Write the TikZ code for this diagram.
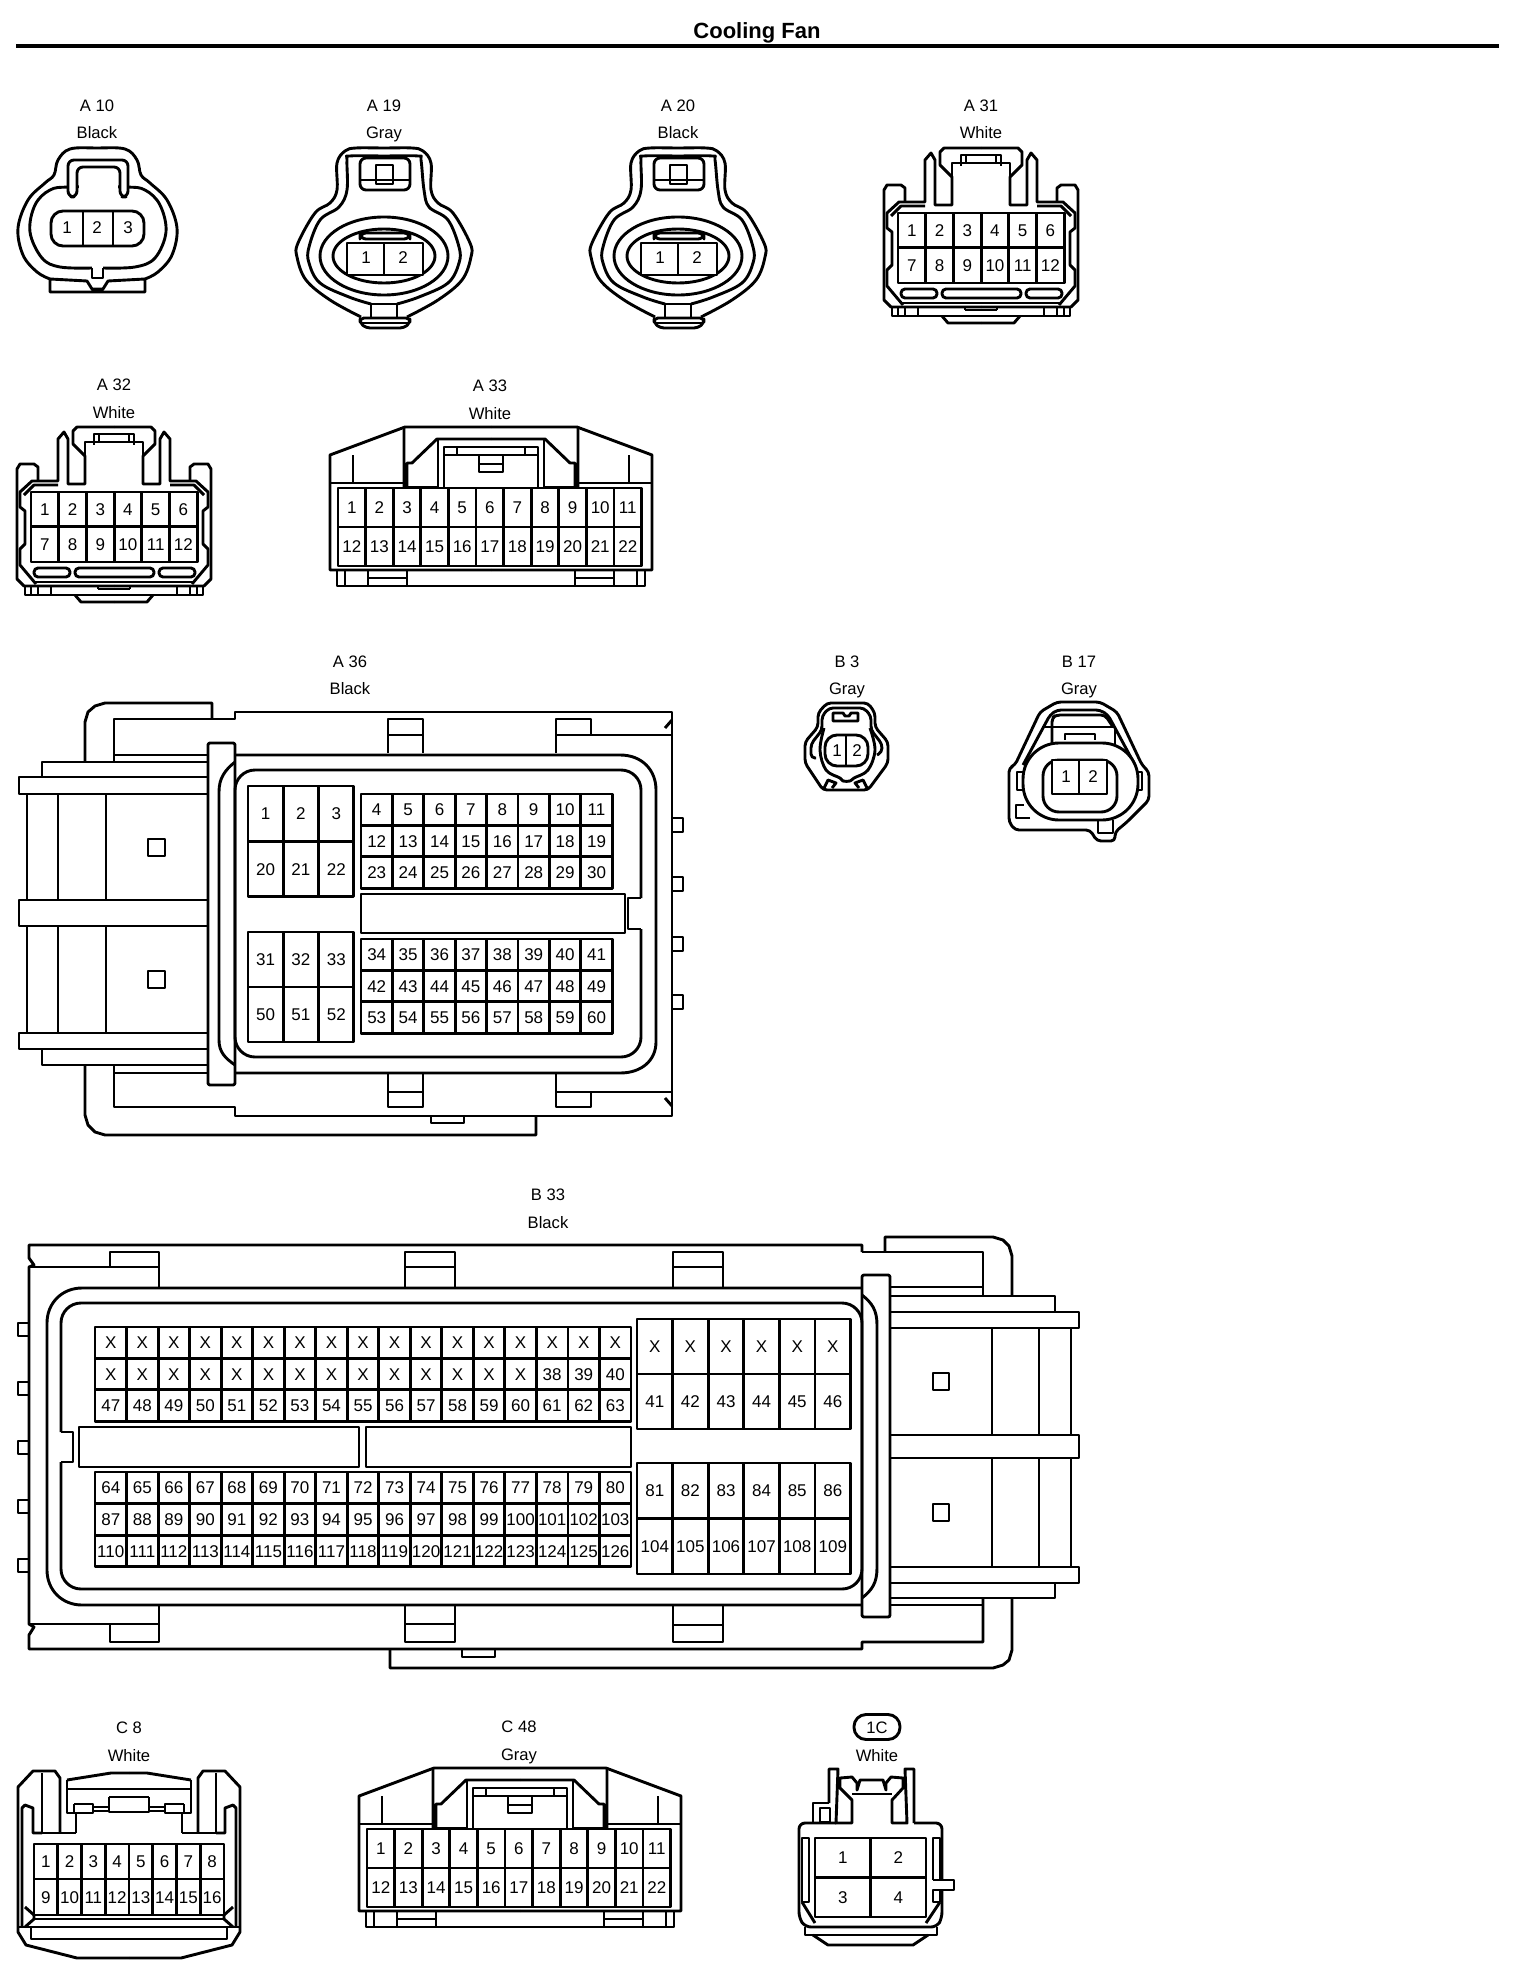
\documentclass[tikz,border=0pt]{standalone}
\usepackage{fontspec}
\setmainfont{Liberation Sans}
\tikzset{
    pincell/.style={draw,inner sep=0pt,text height=6pt,text depth=0pt,font=\fontsize{8.5}{10}\selectfont},
    pintext/.style={inner sep=0pt,text height=6pt,text depth=0pt,font=\fontsize{8.5}{10}\selectfont},
    tagtext/.style={inner sep=0pt,text height=6pt,text depth=0pt,font=\fontsize{8.3}{10}\selectfont}
}
% row of pin cells: name, left, top, cell width, cell height, labels
\newcommand{\pinrow}[6]{
    \foreach \lab [count=\i] in {#6}
        \node[pincell,minimum width=#4*0.5pt,minimum height=#5*0.5pt] (#1-\i) at ({#2+(\i-0.5)*#4},{#3+0.5*#5}) {\lab};
}
\begin{document}
\begin{tikzpicture}[x=0.5pt,y=-0.5pt,line width=1.45pt,line join=round]
    \useasboundingbox (0,0) rectangle (1520,1974);
    \node[inner sep=0pt,text height=8pt,text depth=0pt,font=\fontsize{11}{13}\selectfont\bfseries] (title) at (757,31) {Cooling Fan};
    \coordinate (ruleleft) at (16,46);
    \coordinate (ruleright) at (1499,46);
    \draw[line width=2.2pt] (ruleleft) -- (ruleright);

    % A 10
    \node[tagtext] (a10) at (97,106) {A 10};
    \node[tagtext] (a10col) at (97,133) {Black};
    \draw plot[smooth,tension=0.6] coordinates {(50,279) (37,272) (23,255) (18,228) (28,200) (45,183) (54,175) (58,160) (70,149) (97,148) (125,149) (137,160) (141,175) (150,183) (167,200) (177,228) (172,255) (158,272) (145,279)};
    \draw (50,279) -- (87,281) -- (92,289) -- (103,289) -- (108,281) -- (145,279) -- (145,292) -- (50,292) -- cycle;
    \draw plot[smooth,tension=0.6] coordinates {(92,268) (60,267) (42,258) (30,232) (35,205) (50,190) (70,187) (125,187) (145,190) (160,205) (166,232) (155,258) (135,267) (103,268)};
    \fill[white] (79,180) rectangle (118,195);
    \draw (92,268) -- (92,278) -- (103,278) -- (103,268);
    \draw[fill=white,rounded corners=3pt] (68,197) -- (68,160) -- (128,160) -- (128,197) -- (120,197) -- (120,167) -- (77,167) -- (77,197) -- cycle;
    \draw[rounded corners=6pt] (51,211) rectangle (144,246);
    \draw (83,211) -- (83,246);
    \draw (113,211) -- (113,246);
    \node[pintext] (a10-1) at (67,228) {1};
    \node[pintext] (a10-2) at (97,228) {2};
    \node[pintext] (a10-3) at (128,228) {3};

    % A 19, A 20
    \foreach \dx/\nm/\code/\col in {0/a19/A 19/Gray,294/a20/A 20/Black}{
        \begin{scope}[shift={(\dx,0)}]
            \node[tagtext] (\nm) at (384,106) {\code};
            \node[tagtext] (\nm col) at (384,133) {\col};
            \draw plot[smooth,tension=0.6] coordinates {(361,317) (330,300) (306,280) (297,257) (298,243) (315,213) (330,203) (337,190) (337,163) (345,151) (356,148) (384,148) (412,148) (423,151) (431,163) (431,190) (438,203) (453,213) (470,243) (471,257) (462,280) (438,300) (407,317)};
            \draw plot[smooth,tension=0.6] coordinates {(371,304) (349,297) (320,283) (309,263) (309,247) (320,220) (339,207) (347,190) (347,160) (350,156) (384,156) (418,156) (421,160) (424,190) (429,207) (448,220) (459,247) (459,263) (448,283) (419,297) (397,304)};
            \draw (384,256) ellipse (64 and 39);
            \draw (384,256) ellipse (51 and 27);
            \draw[rounded corners=3pt] (360,190) -- (360,158) -- (410,158) -- (410,190) -- cycle;
            \draw (360,180) -- (410,180);
            \draw (376,165) rectangle (393,184);
            \draw[rounded corners=3pt] (360,233) rectangle (410,239);
            \draw[fill=white] (347,243) rectangle (423,275);
            \draw (384,243) -- (384,275);
            \node[pintext] (\nm-1) at (366,258) {1};
            \node[pintext] (\nm-2) at (403,258) {2};
            \draw (371,304) -- (371,318);
            \draw (397,304) -- (397,318);
            \draw (371,304) -- (397,304);
            \draw[rounded corners=2pt] (360,318) -- (360,323) -- (366,328) -- (404,328) -- (410,323) -- (410,318) -- cycle;
            \draw (360,323) -- (410,323);
        \end{scope}
    }

    % A 31, A 32
    \foreach \dx/\dy/\nm/\code in {0/0/a31/A 31,-867/279/a32/A 32}{
        \begin{scope}[shift={(981+\dx,\dy)}]
            \node[tagtext] (\nm) at (0,106) {\code};
            \node[tagtext] (\nm col) at (0,133) {White};
            \foreach \s in {1,-1}{
                \begin{scope}[xscale=\s]
                    \draw (0,148) -- (37,148) -- (41,152) -- (41,165) -- (29,177) -- (29,205) -- (46,205) -- (46,160) -- (50,153) -- (56,160) -- (56,202) -- (82,202) -- (94,213) -- (94,228) -- (89,232) -- (89,265) -- (94,270) -- (94,286) -- (78,305);
                    \draw (29,177) -- (29,163) -- (0,163);
                    \draw (0,155) -- (20,155) -- (20,166);
                    \draw (15,155) -- (15,163);
                    \draw (76,202) -- (76,188) -- (80,185) -- (94,185) -- (97,190) -- (97,300) -- (90,307) -- (0,307);
                    \draw (56,206) -- (80,206) -- (90,216);
                    \draw (0,303) -- (80,303);
                    \draw (89,307) -- (89,316) -- (0,316);
                    \draw (83,307) -- (83,316);
                    \draw (76,307) -- (76,316);
                    \draw (63,307) -- (63,316);
                    \draw (39,316) -- (33,323) -- (0,323);
                    \draw (16,310) -- (16,307);
                    \draw (16,310) -- (0,310);
                \end{scope}
            }
            \draw[rounded corners=2pt] (-80,289) rectangle (-44,298);
            \draw[rounded corners=2pt] (-39,289) rectangle (40,298);
            \draw[rounded corners=2pt] (45,289) rectangle (81,298);
            \pinrow{\nm-a}{-83}{213}{27.7}{34.5}{1,2,3,4,5,6}
            \pinrow{\nm-b}{-83}{247.5}{27.7}{35.5}{7,8,9,10,11,12}
        \end{scope}
    }

    % A 33, C 48
    \foreach \dx/\dy/\nm/\code/\col in {0/0/a33/A 33/White,29/1341/c48/C 48/Gray}{
        \begin{scope}[shift={(491+\dx,\dy)}]
            \node[tagtext] (\nm) at (-1,385.5) {\code};
            \node[tagtext] (\nm col) at (-1,413.5) {\col};
            \foreach \s in {1,-1}{
                \begin{scope}[xscale=\s]
                    \draw (0,427) -- (86,427) -- (161,455) -- (161,570) -- (0,570);
                    \draw (138,455) -- (138,483);
                    \draw (161,483) -- (87,483);
                    \draw (87,427) -- (87,487) -- (84,487) -- (84,463) -- (79,463) -- (54,439) -- (0,439);
                    \draw (53,439) -- (53,487) -- (84,487);
                    \draw (47,487) -- (47,447) -- (0,447);
                    \draw (34,447) -- (34,455);
                    \draw (47,455) -- (0,455);
                    \draw (154,570) -- (154,586) -- (0,586);
                    \draw (146,570) -- (146,586);
                    \draw (123,570) -- (123,586);
                    \draw (84,570) -- (84,586);
                    \draw (84,578) -- (123,578);
                    \draw (12,455) -- (12,472) -- (0,472);
                    \draw (12,464) -- (0,464);
                \end{scope}
            }
            \pinrow{\nm-a}{-153}{488}{27.6}{39}{1,2,3,4,5,6,7,8,9,10,11}
            \pinrow{\nm-b}{-153}{527}{27.6}{39}{12,13,14,15,16,17,18,19,20,21,22}
        \end{scope}
    }

    % A 36
    \node[tagtext] (a36) at (350,661) {A 36};
    \node[tagtext] (a36col) at (350,688) {Black};
    \draw (212,718) -- (212,703) -- (105,703) -- (95,706) -- (88,712) -- (85,722) -- (85,762);
    \draw (114,762) -- (114,719) -- (235,719) -- (235,712) -- (672,712) -- (672,1116) -- (235,1116) -- (235,1107) -- (114,1107) -- (114,1065);
    \draw (114,755) -- (208,755);
    \draw (114,1073) -- (208,1073);
    \draw (85,1065) -- (85,1115) -- (88,1125) -- (95,1132) -- (105,1135) -- (536,1135) -- (536,1116);
    \draw (431,1116) -- (431,1123) -- (464,1123) -- (464,1116);
    \draw (388,753) -- (388,719) -- (423,719) -- (423,753);
    \draw (388,735) -- (423,735);
    \draw (556,753) -- (556,719) -- (591,719) -- (591,735);
    \draw (556,735) -- (672,735);
    \draw (665,728) -- (672,720);
    \draw (388,1073) -- (388,1107) -- (423,1107) -- (423,1073);
    \draw (388,1092) -- (423,1092);
    \draw (556,1073) -- (556,1107) -- (591,1107) -- (591,1092);
    \draw (556,1092) -- (672,1092);
    \draw (665,1098) -- (672,1106);
    \foreach \ty in {818,877,937,995}{
        \draw (672,\ty) -- (683,\ty) -- (683,\ty+14) -- (672,\ty+14);
    }
    \draw (42,777) -- (42,762) -- (208,762);
    \draw (208,777) -- (19,777) -- (19,794) -- (208,794);
    \draw (27,794) -- (27,900);
    \draw (58,794) -- (58,900);
    \draw (106,794) -- (106,900);
    \draw (208,900) -- (19,900) -- (19,926) -- (208,926);
    \draw (27,926) -- (27,1033);
    \draw (58,926) -- (58,1033);
    \draw (106,926) -- (106,1033);
    \draw (208,1033) -- (19,1033) -- (19,1049) -- (208,1049);
    \draw (42,1049) -- (42,1065) -- (208,1065);
    \draw (148,839) rectangle (165,856);
    \draw (148,971) rectangle (165,988);
    \draw[rounded corners=1pt] (208,1085) -- (208,743) -- (235,743) -- (235,1085) -- cycle;
    \draw (236,755) -- (620,755) .. controls (642,755) and (656,770) .. (656,790) -- (656,1042) .. controls (656,1060) and (642,1073) .. (620,1073) -- (236,1073);
    \draw (235,762) .. controls (225,770) and (219,778) .. (219,792) -- (219,1040) .. controls (219,1052) and (225,1058) .. (235,1065);
    \draw[rounded corners=10pt] (641,898) -- (641,770) -- (235,770) -- (235,1057) -- (641,1057) -- (641,929);
    \draw (641,898) -- (628,898) -- (628,929) -- (641,929);
    \draw[fill=white] (361,894) rectangle (625,933);
    \pinrow{a36-a}{248}{786}{35.3}{55.5}{1,2,3}
    \pinrow{a36-b}{248}{841.5}{35.3}{55}{20,21,22}
    \pinrow{a36-c}{248}{932}{35.3}{55}{31,32,33}
    \pinrow{a36-d}{248}{987}{35.3}{55}{50,51,52}
    \pinrow{a36-e}{361}{794}{31.4}{31.4}{4,5,6,7,8,9,10,11}
    \pinrow{a36-f}{361}{825.4}{31.4}{31.4}{12,13,14,15,16,17,18,19}
    \pinrow{a36-g}{361}{856.8}{31.4}{31.4}{23,24,25,26,27,28,29,30}
    \pinrow{a36-h}{361}{939}{31.4}{31.4}{34,35,36,37,38,39,40,41}
    \pinrow{a36-i}{361}{970.4}{31.4}{31.4}{42,43,44,45,46,47,48,49}
    \pinrow{a36-j}{361}{1001.8}{31.4}{31.4}{53,54,55,56,57,58,59,60}

    % B 3
    \node[tagtext] (b3) at (847,661) {B 3};
    \node[tagtext] (b3col) at (847,688) {Gray};
    \draw[rounded corners=2pt] (847,703) -- (868,703) -- (875,713) -- (875,727) -- (888,742) -- (888,763) -- (868,790) -- (823,790) -- (805,763) -- (805,742) -- (818,727) -- (818,713) -- (827,703) -- cycle;
    \draw[rounded corners=2pt] (847,708) -- (864,708) -- (871,716) -- (871,730) -- (882,744) -- (882,752) -- (877,755);
    \draw[rounded corners=2pt] (847,708) -- (829,708) -- (822,716) -- (822,730) -- (811,744) -- (811,758) -- (816,758);
    \draw plot[smooth,tension=0.6] coordinates {(824,728) (820,750) (826,770) (840,778) (843,781) (850,781) (854,778) (868,770) (875,750) (870,728)};
    \draw (823,790) -- (828,780) -- (836,783) -- (832,788);
    \draw (868,790) -- (863,780) -- (855,783) -- (859,788);
    \draw[fill=white,rounded corners=6pt] (825,735) rectangle (868,766);
    \draw (846,735) -- (846,766);
    \node[pintext] (b3-1) at (837,750) {1};
    \node[pintext] (b3-2) at (857,750) {2};
    \draw (833,713) -- (843,713) -- (845,716) -- (849,716) -- (851,713) -- (858,713) -- (858,721) -- (833,721) -- cycle;

    % B 17
    \node[tagtext] (b17) at (1079,661) {B 17};
    \node[tagtext] (b17col) at (1079,688) {Gray};
    \draw[rounded corners=2pt] (1080,702) -- (1100,702) -- (1117,712) -- (1142,765) -- (1149,772) -- (1149,800) -- (1127,822) -- (1115,832) -- (1115,841) -- (1097,841) -- (1090,830) -- (1015,830) -- (1009,822) -- (1009,768) -- (1015,765) -- (1040,712) -- (1057,702) -- cycle;
    \draw[rounded corners=2pt] (1023,765) -- (1050,715) -- (1057,710) -- (1100,710) -- (1108,715) -- (1135,765);
    \draw[rounded corners=2pt] (1052,745) -- (1052,718) -- (1056,715) -- (1105,715) -- (1113,727);
    \draw (1042,727) -- (1115,727) -- (1115,745);
    \draw (1065,740) -- (1065,734) -- (1095,734) -- (1095,740);
    \draw[fill=white,rounded corners=18pt] (1023,743) rectangle (1138,820);
    \draw (1098,820) -- (1098,833) -- (1113,833) -- (1113,820);
    \draw (1023,772) -- (1017,772) -- (1017,790) -- (1023,790);
    \draw (1138,772) -- (1142,772) -- (1142,790) -- (1138,790);
    \draw (1030,818) -- (1016,818) -- (1016,805) -- (1024,805);
    \draw[rounded corners=8pt] (1043,760) rectangle (1117,812);
    \draw[fill=white] (1052,760) rectangle (1107,794);
    \draw (1079,760) -- (1079,794);
    \node[pintext] (b17-1) at (1066,776) {1};
    \node[pintext] (b17-2) at (1093,776) {2};

    % B 33
    \node[tagtext] (b33) at (548,1194) {B 33};
    \node[tagtext] (b33col) at (548,1222) {Black};
    \draw (862,1252) -- (862,1245) -- (29,1245) -- (29,1258) -- (34,1265) -- (29,1267) -- (29,1624) -- (34,1627) -- (29,1635) -- (29,1649) -- (862,1649) -- (862,1642) -- (983,1642) -- (983,1598);
    \draw (862,1252) -- (983,1252) -- (983,1295);
    \draw (890,1287) -- (983,1287);
    \draw (890,1605) -- (983,1605);
    \draw (885,1252) -- (885,1237) -- (993,1237) -- (1003,1240) -- (1009,1246) -- (1012,1256) -- (1012,1296);
    \draw (1012,1598) -- (1012,1650) -- (1009,1660) -- (1003,1665) -- (993,1668) -- (390,1668) -- (390,1649);
    \draw (462,1649) -- (462,1657) -- (495,1657) -- (495,1649);
    \draw (29,1267) -- (159,1267) -- (159,1288);
    \draw (110,1267) -- (110,1252) -- (159,1252) -- (159,1267);
    \draw (405,1288) -- (405,1252) -- (455,1252) -- (455,1288);
    \draw (405,1267) -- (455,1267);
    \draw (673,1287) -- (673,1252) -- (723,1252) -- (723,1287);
    \draw (673,1267) -- (723,1267);
    \draw (29,1624) -- (159,1624) -- (159,1605);
    \draw (110,1624) -- (110,1642) -- (159,1642) -- (159,1624);
    \draw (405,1605) -- (405,1642) -- (455,1642) -- (455,1605);
    \draw (405,1624) -- (455,1624);
    \draw (673,1605) -- (673,1642) -- (723,1642) -- (723,1605);
    \draw (673,1625) -- (723,1625);
    \foreach \ty in {1323,1382,1441,1500,1559}{
        \draw (29,\ty) -- (18,\ty) -- (18,\ty+13) -- (29,\ty+13);
    }
    \draw (890,1312) -- (890,1296) -- (1055,1296) -- (1055,1312);
    \draw (890,1312) -- (1079,1312) -- (1079,1328) -- (890,1328);
    \draw (1071,1328) -- (1071,1435);
    \draw (992,1328) -- (992,1435);
    \draw (1039,1328) -- (1039,1435);
    \draw (890,1435) -- (1079,1435) -- (1079,1458) -- (890,1458);
    \draw (1071,1458) -- (1071,1567);
    \draw (992,1458) -- (992,1567);
    \draw (1039,1458) -- (1039,1567);
    \draw (890,1567) -- (1079,1567) -- (1079,1583) -- (890,1583);
    \draw (1055,1583) -- (1055,1598) -- (890,1598);
    \draw (933,1373) rectangle (949,1390);
    \draw (933,1504) rectangle (949,1521);
    \draw[rounded corners=1pt] (862,1275) rectangle (890,1617);
    \draw (862,1288) -- (82,1288) .. controls (62,1288) and (47,1303) .. (47,1323) -- (47,1570) .. controls (47,1590) and (62,1605) .. (82,1605) -- (862,1605);
    \draw (862,1295) .. controls (872,1303) and (877,1310) .. (877,1325) -- (877,1568) .. controls (877,1583) and (872,1590) .. (862,1598);
    \draw[rounded corners=10pt] (61,1432) -- (61,1303) -- (862,1303) -- (862,1589) -- (61,1589) -- (61,1462);
    \draw (61,1432) -- (73,1432) -- (73,1462) -- (61,1462);
    \draw[fill=white] (79,1427) rectangle (359,1467);
    \draw[fill=white] (366,1427) rectangle (631,1467);
    \pinrow{b33-a}{95}{1327}{31.53}{31.4}{X,X,X,X,X,X,X,X,X,X,X,X,X,X,X,X,X}
    \pinrow{b33-b}{95}{1358.4}{31.53}{31.4}{X,X,X,X,X,X,X,X,X,X,X,X,X,X,38,39,40}
    \pinrow{b33-c}{95}{1389.8}{31.53}{31.4}{47,48,49,50,51,52,53,54,55,56,57,58,59,60,61,62,63}
    \pinrow{b33-d}{95}{1472}{31.53}{31.6}{64,65,66,67,68,69,70,71,72,73,74,75,76,77,78,79,80}
    \pinrow{b33-e}{95}{1503.6}{31.53}{31.6}{87,88,89,90,91,92,93,94,95,96,97,98,99,100,101,102,103}
    \pinrow{b33-f}{95}{1535.2}{31.53}{31.6}{110,111,112,113,114,115,116,117,118,119,120,121,122,123,124,125,126}
    \pinrow{b33-g}{637}{1319}{35.6}{55}{X,X,X,X,X,X}
    \pinrow{b33-h}{637}{1374}{35.6}{55}{41,42,43,44,45,46}
    \pinrow{b33-i}{637}{1463}{35.6}{55.5}{81,82,83,84,85,86}
    \pinrow{b33-j}{637}{1518.5}{35.6}{55.5}{104,105,106,107,108,109}

    % C 8
    \node[tagtext] (c8) at (129,1727) {C 8};
    \node[tagtext] (c8col) at (129,1755) {White};
    \begin{scope}[shift={(129,0)}]
        \foreach \s in {1,-1}{
            \begin{scope}[xscale=\s]
                \draw (69,1833) -- (69,1778) -- (74,1771) -- (96,1771) -- (111,1787) -- (111,1932) -- (103,1945) -- (52,1958) -- (0,1958);
                \draw (87,1773) -- (87,1833);
                \draw (53,1833) -- (87,1833);
                \draw (53,1813) -- (53,1833);
                \draw (87,1833) -- (96,1833) -- (96,1808) -- (104,1805) -- (107,1808) -- (107,1927);
                \draw (62,1780) -- (18,1773) -- (0,1773);
                \draw (62,1780) -- (62,1813) -- (36,1813) -- (36,1804) -- (55,1804);
                \draw (62,1789) -- (0,1789);
                \draw (55,1804) -- (55,1813);
                \draw (36,1807) -- (20,1807);
                \draw (36,1811) -- (20,1811);
                \draw (20,1797) -- (20,1812) -- (0,1812);
                \draw (20,1797) -- (0,1797);
                \draw (95,1915) -- (104,1907);
                \draw (95,1919) -- (0,1919);
                \draw (95,1915) -- (95,1919) -- (104,1927);
                \draw (111,1927) -- (0,1927);
                \draw (98,1927) -- (98,1939) -- (0,1939);
            \end{scope}
        }
    \end{scope}
    \pinrow{c8-a}{34}{1844}{23.75}{35}{1,2,3,4,5,6,7,8}
    \pinrow{c8-b}{34}{1879}{23.75}{36}{9,10,11,12,13,14,15,16}

    % 1C
    \node[draw,rounded corners=6pt,minimum width=23pt,minimum height=12.5pt,inner sep=0pt,text height=6pt,text depth=0pt,font=\fontsize{8.3}{10}\selectfont] (one) at (877,1727) {1C};
    \node[tagtext] (onecol) at (877,1755) {White};
    \draw (829,1803) -- (829,1769) -- (838,1769) -- (836,1823) -- (852,1823) -- (852,1800) -- (840,1788) -- (840,1778) -- (852,1777) -- (857,1783) -- (857,1790) -- (860,1780) -- (883,1780) -- (886,1790) -- (886,1783) -- (891,1777) -- (903,1778) -- (903,1788) -- (892,1800) -- (892,1823) -- (907,1823) -- (905,1769) -- (914,1769) -- (914,1823);
    \draw (852,1794) -- (892,1794);
    \draw (829,1803) -- (813,1803) -- (813,1823);
    \draw (820,1808) rectangle (830,1822);
    \draw[rounded corners=3pt] (836,1823) -- (799,1823) -- (799,1918) -- (805,1927) -- (937,1927) -- (942,1918) -- (942,1890);
    \draw[rounded corners=3pt] (942,1880) -- (942,1823) -- (914,1823);
    \draw (802,1838) rectangle (809,1902);
    \draw (933,1880) -- (933,1838) -- (940,1838) -- (940,1880);
    \draw (933,1880) -- (954,1880) -- (954,1890) -- (933,1890) -- (933,1902) -- (940,1902) -- (940,1890);
    \draw (802,1902) -- (815,1923);
    \draw (940,1902) -- (926,1923);
    \draw (805,1927) -- (805,1935) -- (937,1935) -- (937,1927);
    \draw (813,1935) -- (828,1945) -- (913,1945) -- (928,1935);
    \pinrow{one-a}{815}{1838}{55.5}{39.5}{1,2}
    \pinrow{one-b}{815}{1877.5}{55.5}{39.5}{3,4}
\end{tikzpicture}
\end{document}
